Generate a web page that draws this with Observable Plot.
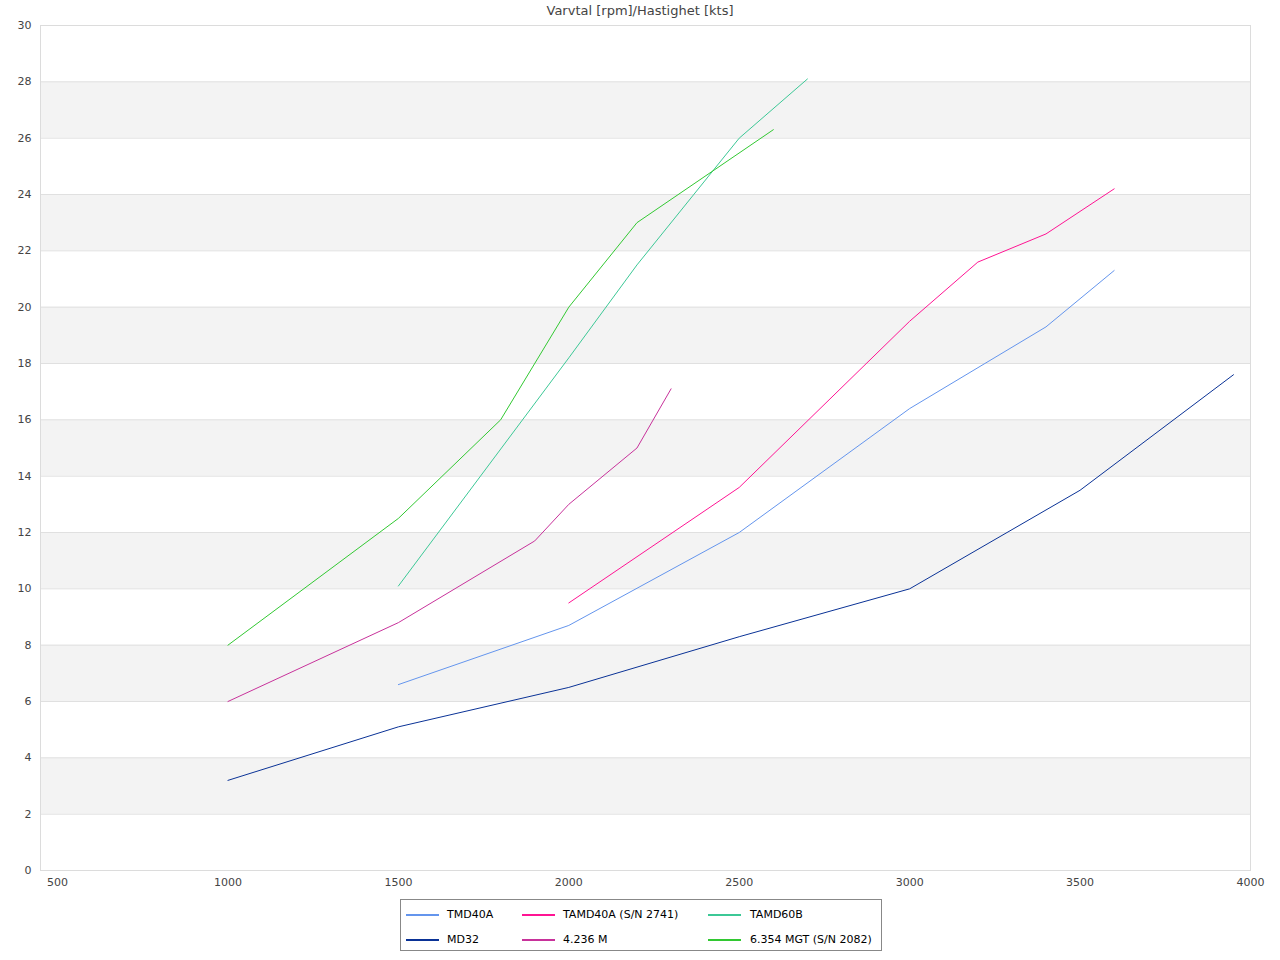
<!DOCTYPE html>
<html>
<head>
<meta charset="utf-8">
<script src="https://cdn.jsdelivr.net/npm/d3@7"></script>
<script src="https://cdn.jsdelivr.net/npm/@observablehq/plot@0.6"></script>
<style>
  html, body { margin: 0; padding: 0; background: #fff; }
  body { width: 1280px; height: 960px; position: relative; font-family: "DejaVu Sans", sans-serif; }
  #title { position: absolute; top: 3px; left: 0; width: 1280px; text-align: center; font-size: 13px; color: #444; }
  #chart { position: absolute; top: 0; left: 0; }
  #legend { position: absolute; left: 400px; top: 899px; width: 480px; height: 50px; border: 1px solid #888; box-sizing: content-box; font-size: 11px; color: #000; }
  .item { position: absolute; height: 14px; line-height: 14px; white-space: nowrap; }
  .sw { position: absolute; left: 0; top: 6px; width: 33px; height: 2px; }
  .lab { position: absolute; top: 0; }
</style>
</head>
<body>
<div id="chart"></div>
<div id="title">Varvtal [rpm]/Hastighet [kts]</div>
<div id="legend"></div>
<script>
// Series names and colours
const seriesNames = ["TMD40A", "MD32", "TAMD40A (S/N 2741)", "4.236 M", "TAMD60B", "6.354 MGT (S/N 2082)"];
const seriesColors = ["#6495ed", "#0a3296", "#ff1493", "#c8329b", "#3cc896", "#32c832"];

// Values: rpm and knots per series
const tmd40aRpm   = [1500, 2000, 2500, 3000, 3400, 3600];
const tmd40aKts   = [6.6, 8.7, 12.0, 16.4, 19.3, 21.3];
const md32Rpm     = [1000, 1500, 2000, 2500, 3000, 3500, 3950];
const md32Kts     = [3.2, 5.1, 6.5, 8.3, 10.0, 13.5, 17.6];
const tamd40aRpm  = [2000, 2500, 3000, 3200, 3400, 3600];
const tamd40aKts  = [9.5, 13.6, 19.5, 21.6, 22.6, 24.2];
const m4236Rpm    = [1000, 1500, 1900, 2000, 2200, 2300];
const m4236Kts    = [6.0, 8.8, 11.7, 13.0, 15.0, 17.1];
const tamd60bRpm  = [1500, 2000, 2200, 2500, 2700];
const tamd60bKts  = [10.1, 18.2, 21.5, 26.0, 28.1];
const mgt6354Rpm  = [1000, 1500, 1800, 2000, 2200, 2600];
const mgt6354Kts  = [8.0, 12.5, 16.0, 20.0, 23.0, 26.3];

// Axis ticks
const xTicks = [500, 1000, 1500, 2000, 2500, 3000, 3500, 4000];
const yTicks = [0, 2, 4, 6, 8, 10, 12, 14, 16, 18, 20, 22, 24, 26, 28, 30];

const rpmLists = [tmd40aRpm, md32Rpm, tamd40aRpm, m4236Rpm, tamd60bRpm, mgt6354Rpm];
const ktsLists = [tmd40aKts, md32Kts, tamd40aKts, m4236Kts, tamd60bKts, mgt6354Kts];
const rows = [];
seriesNames.forEach((name, i) => {
  rpmLists[i].forEach((r, j) => rows.push({series: name, rpm: r, kts: ktsLists[i][j]}));
});

// alternating bands: grey between 2-4, 6-8, 10-12, ...
const bands = yTicks.filter((t, i) => i % 2 === 1 && t < 30).map(t => ({y1: t, y2: t + 2}));

const chart = Plot.plot({
  width: 1280,
  height: 895,
  marginLeft: 40,
  marginRight: 30,
  marginTop: 25,
  marginBottom: 25,
  style: {fontFamily: "DejaVu Sans, sans-serif", fontSize: "11px", color: "#444", background: "#fff"},
  x: {domain: [450, 4000]},
  y: {domain: [0, 30]},
  color: {domain: seriesNames, range: seriesColors},
  marks: [
    Plot.rectY(bands, {x1: 450, x2: 4000, y1: "y1", y2: "y2", fill: "#f3f3f3"}),
    Plot.ruleY(yTicks, {stroke: "#e0e0e0", strokeWidth: 1}),
    Plot.frame({stroke: "#dcdcdc"}),
    Plot.axisX({ticks: xTicks, tickSize: 0, tickPadding: 8, tickFormat: d => String(d), label: null}),
    Plot.axisY({ticks: yTicks, tickSize: 0, tickPadding: 9, tickFormat: d => String(d), label: null}),
    Plot.line(rows, {x: "rpm", y: "kts", z: "series", stroke: "series", strokeWidth: 1})
  ]
});
document.getElementById("chart").appendChild(chart);

// Legend
const legend = document.getElementById("legend");
const colX = [5, 121, 307];
const labX = [46, 162, 349];
const rowY = [8, 33];
seriesNames.forEach((name, i) => {
  const col = Math.floor(i / 2), row = i % 2;
  const item = document.createElement("div");
  item.className = "item";
  item.style.left = colX[col] + "px";
  item.style.top = rowY[row] + "px";
  const sw = document.createElement("div");
  sw.className = "sw";
  sw.style.background = seriesColors[i];
  const lab = document.createElement("div");
  lab.className = "lab";
  lab.style.left = (labX[col] - colX[col]) + "px";
  lab.textContent = name;
  item.appendChild(sw);
  item.appendChild(lab);
  legend.appendChild(item);
});
</script>
</body>
</html>
